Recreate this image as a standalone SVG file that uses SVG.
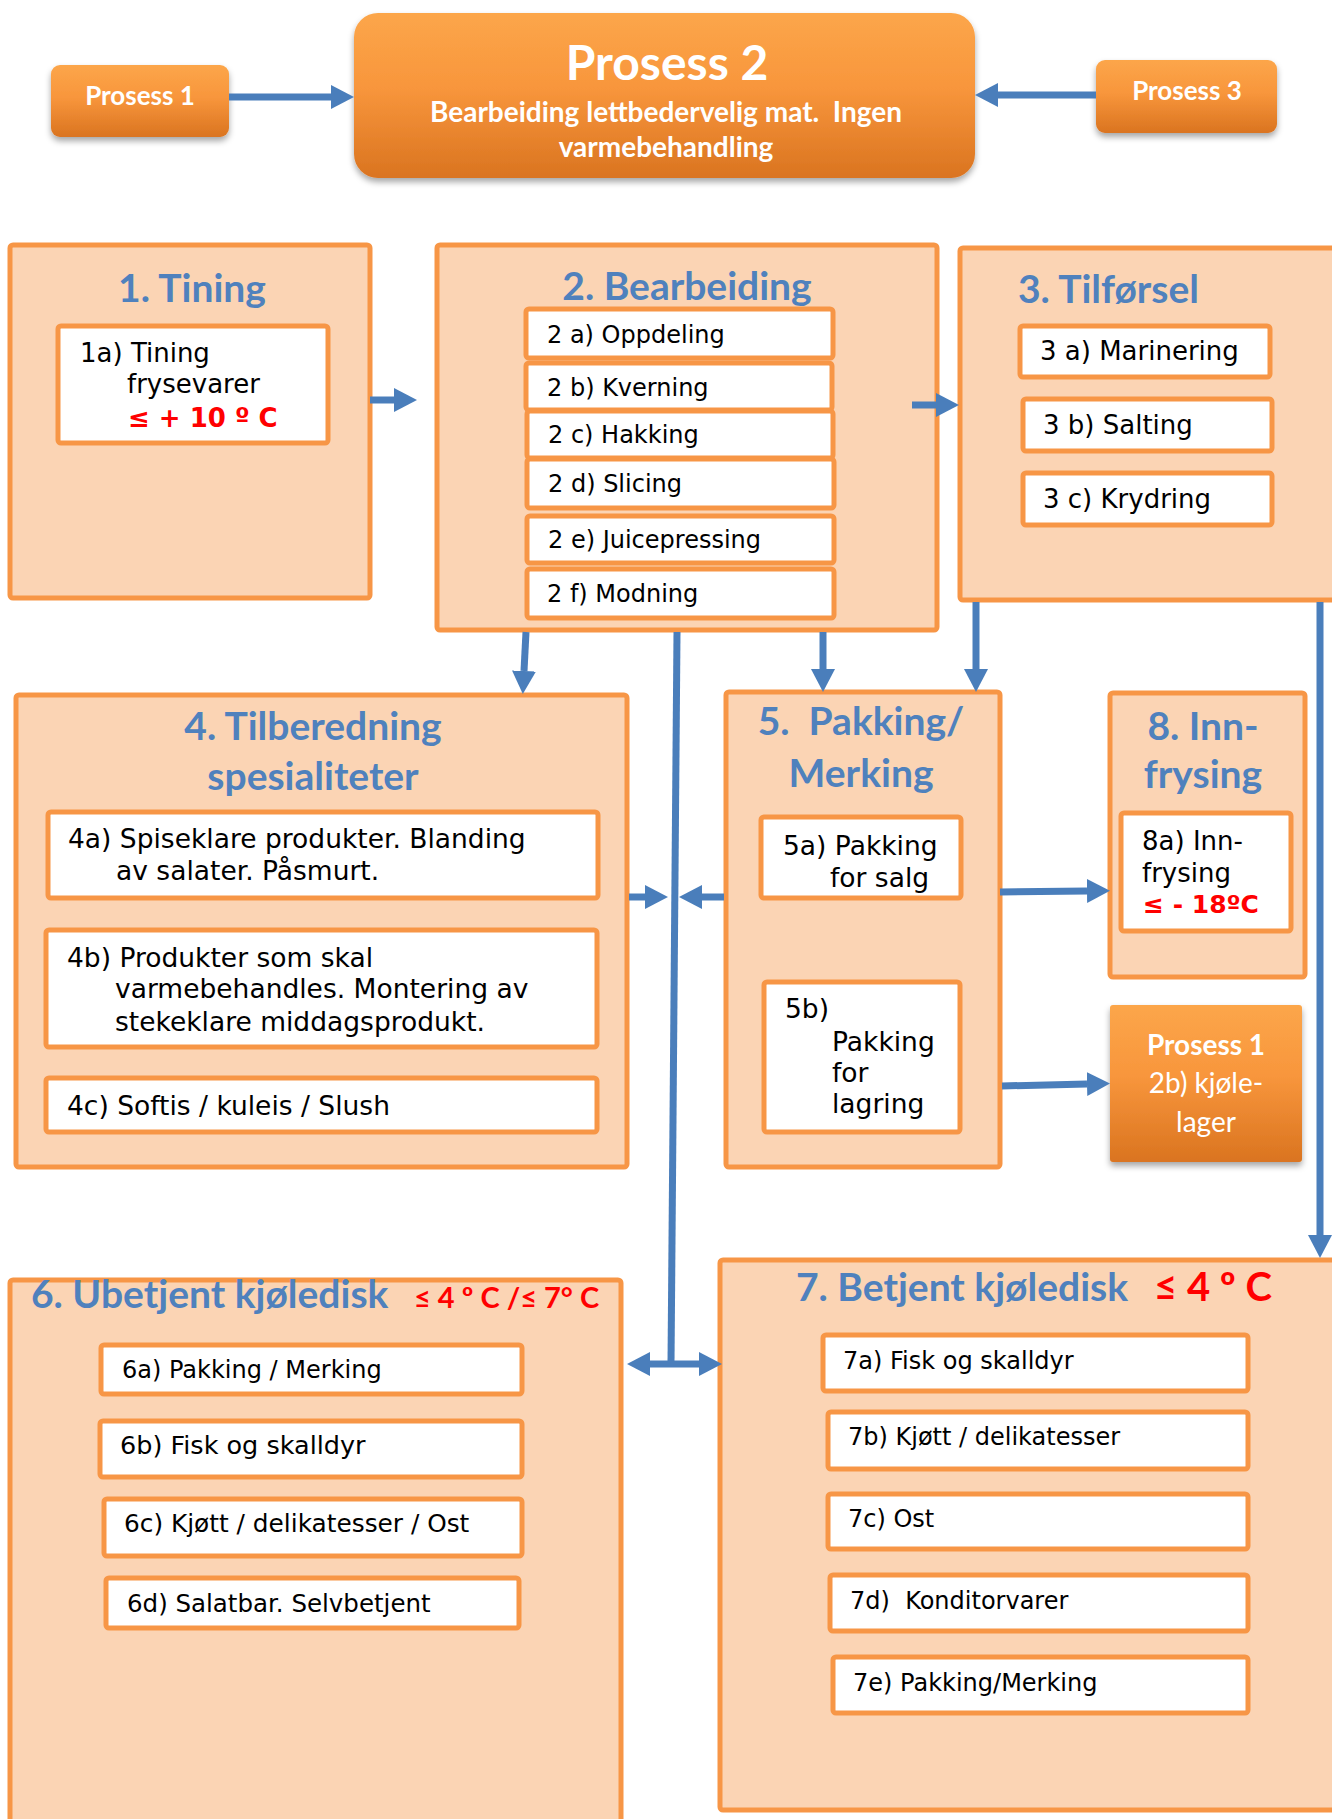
<svg xmlns="http://www.w3.org/2000/svg" width="1332" height="1819" viewBox="0 0 1332 1819">
<defs>
<linearGradient id="og" x1="0" y1="0" x2="0" y2="1">
<stop offset="0" stop-color="#FCA64A"/>
<stop offset="0.45" stop-color="#F8963C"/>
<stop offset="1" stop-color="#DA7420"/>
</linearGradient>
<filter id="sh" x="-10%" y="-10%" width="120%" height="130%">
<feDropShadow dx="0" dy="4" stdDeviation="3" flood-color="#000" flood-opacity="0.35"/>
</filter>
<marker id="ah" markerUnits="userSpaceOnUse" markerWidth="24" markerHeight="26" refX="0" refY="12" orient="auto-start-reverse" viewBox="0 0 24 24">
<path d="M0,0 L23,12 L0,24 z" fill="#4A7EBB"/>
</marker>
<style>
.outer{fill:#FBD4B4;stroke:#F79646;stroke-width:5}
.inner{fill:#FFFFFF;stroke:#F79646;stroke-width:5}
.proc{fill:url(#og);filter:url(#sh)}
.ttl{font-family:Lato,Calibri,sans-serif;font-weight:bold;font-size:39px;fill:#4F81BD}
.ver{font-family:"DejaVu Sans",Verdana,sans-serif;font-size:24px;fill:#000}
.ver26{font-family:"DejaVu Sans",Verdana,sans-serif;font-size:26px;fill:#000}
.ver265{font-family:"DejaVu Sans",Verdana,sans-serif;font-size:26.5px;fill:#000}
.redv{font-family:"DejaVu Sans",Verdana,sans-serif;font-weight:bold;fill:#FF0000}
.redc{font-family:Lato,Calibri,sans-serif;font-weight:bold;fill:#FF0000}
.wt{font-family:Lato,Calibri,sans-serif;font-weight:bold;fill:#FFFFFF}
.wr{font-family:Lato,Calibri,sans-serif;fill:#FFFFFF}
.c{stroke:#4A7EBB;stroke-width:7;fill:none}
.ca{stroke:#4A7EBB;stroke-width:7;fill:none;marker-end:url(#ah)}
.cb{stroke:#4A7EBB;stroke-width:7;fill:none;marker-end:url(#ah);marker-start:url(#ah)}
</style>
</defs>
<rect width="1332" height="1819" fill="#FFFFFF"/>

<g id="prosess1">
<rect class="proc" x="51" y="65" width="178" height="72" rx="9"/>
<text class="wt" x="140" y="105" font-size="26" text-anchor="middle">Prosess 1</text>
</g>
<g id="prosess2">
<rect class="proc" x="354" y="13" width="621" height="165" rx="24"/>
<text class="wt" x="667" y="80" font-size="48" text-anchor="middle">Prosess 2</text>
<text class="wt" x="666" y="122" font-size="28" text-anchor="middle" xml:space="preserve">Bearbeiding lettbedervelig mat.  Ingen</text>
<text class="wt" x="666" y="157" font-size="28" text-anchor="middle">varmebehandling</text>
</g>
<g id="prosess3">
<rect class="proc" x="1096" y="60" width="181" height="73" rx="9"/>
<text class="wt" x="1187" y="100" font-size="26" text-anchor="middle">Prosess 3</text>
</g>

<g id="tining">
<rect class="outer" x="10" y="245" width="360" height="353" rx="3"/>
<text class="ttl" x="192" y="302" text-anchor="middle">1. Tining</text>
<rect class="inner" x="58" y="326" width="270" height="117" rx="3"/>
<text class="ver26" x="80" y="362">1a) Tining</text>
<text class="ver26" x="127" y="393">frysevarer</text>
<text class="redv" x="128" y="427" font-size="26">≤ + 10 º C</text>
</g>

<g id="bearbeiding">
<rect class="outer" x="437" y="245" width="500" height="385" rx="3"/>
<text class="ttl" x="687" y="300" text-anchor="middle">2. Bearbeiding</text>
<rect class="inner" x="526" y="309" width="307" height="49" rx="3"/>
<text class="ver" x="547" y="343">2 a) Oppdeling</text>
<rect class="inner" x="526" y="363" width="306" height="47" rx="3"/>
<text class="ver" x="547" y="396">2 b) Kverning</text>
<rect class="inner" x="527" y="411" width="306" height="47" rx="3"/>
<text class="ver" x="548" y="443">2 c) Hakking</text>
<rect class="inner" x="527" y="459" width="307" height="49" rx="3"/>
<text class="ver" x="548" y="492">2 d) Slicing</text>
<rect class="inner" x="527" y="516" width="307" height="47" rx="3"/>
<text class="ver" x="548" y="548">2 e) Juicepressing</text>
<rect class="inner" x="527" y="569" width="307" height="49" rx="3"/>
<text class="ver" x="547" y="602">2 f) Modning</text>
</g>

<g id="tilforsel">
<rect class="outer" x="960" y="248" width="380" height="352" rx="3"/>
<text class="ttl" x="1018" y="303">3. Tilførsel</text>
<rect class="inner" x="1020" y="326" width="250" height="51" rx="3"/>
<text class="ver26" x="1040" y="360">3 a) Marinering</text>
<rect class="inner" x="1023" y="399" width="249" height="52" rx="3"/>
<text class="ver26" x="1043" y="434">3 b) Salting</text>
<rect class="inner" x="1023" y="473" width="249" height="52" rx="3"/>
<text class="ver26" x="1043" y="508">3 c) Krydring</text>
</g>

<g id="tilberedning">
<rect class="outer" x="16" y="695" width="611" height="472" rx="3"/>
<text class="ttl" x="313" y="740" text-anchor="middle">4. Tilberedning</text>
<text class="ttl" x="313" y="790" text-anchor="middle">spesialiteter</text>
<rect class="inner" x="48" y="812" width="550" height="86" rx="3"/>
<text class="ver265" x="68" y="848">4a) Spiseklare produkter. Blanding</text>
<text class="ver265" x="116" y="880">av salater. Påsmurt.</text>
<rect class="inner" x="46" y="930" width="551" height="117" rx="3"/>
<text class="ver265" x="67" y="967">4b) Produkter som skal</text>
<text class="ver265" x="115" y="998">varmebehandles. Montering av</text>
<text class="ver265" x="115" y="1031">stekeklare middagsprodukt.</text>
<rect class="inner" x="46" y="1078" width="551" height="54" rx="3"/>
<text class="ver265" x="67" y="1115">4c) Softis / kuleis / Slush</text>
</g>

<g id="pakking">
<rect class="outer" x="726" y="692" width="274" height="475" rx="3"/>
<text class="ttl" x="861" y="735" text-anchor="middle" xml:space="preserve">5.  Pakking/</text>
<text class="ttl" x="861" y="787" text-anchor="middle">Merking</text>
<rect class="inner" x="761" y="817" width="200" height="81" rx="3"/>
<text class="ver265" x="783" y="855">5a) Pakking</text>
<text class="ver265" x="830" y="887">for salg</text>
<rect class="inner" x="764" y="982" width="196" height="150" rx="3"/>
<text class="ver265" x="785" y="1018">5b)</text>
<text class="ver265" x="832" y="1051">Pakking</text>
<text class="ver265" x="832" y="1082">for</text>
<text class="ver265" x="832" y="1113">lagring</text>
</g>

<g id="innfrysing">
<rect class="outer" x="1110" y="693" width="195" height="284" rx="3"/>
<text class="ttl" x="1203" y="740" text-anchor="middle">8. Inn-</text>
<text class="ttl" x="1203" y="788" text-anchor="middle">frysing</text>
<rect class="inner" x="1121" y="813" width="170" height="118" rx="3"/>
<text class="ver26" x="1142" y="850">8a) Inn-</text>
<text class="ver26" x="1142" y="882">frysing</text>
<text class="redv" x="1143" y="913" font-size="25">≤ - 18ºC</text>
</g>

<g id="prosess1-kjolelager">
<rect class="proc" x="1110" y="1005" width="192" height="157" rx="3"/>
<text class="wt" x="1206" y="1055" font-size="28" text-anchor="middle">Prosess 1</text>
<text class="wr" x="1206" y="1093" font-size="28" text-anchor="middle">2b) kjøle-</text>
<text class="wr" x="1206" y="1132" font-size="28" text-anchor="middle">lager</text>
</g>

<g id="ubetjent">
<rect class="outer" x="10" y="1280" width="611" height="560" rx="3"/>
<text class="ttl" x="31" y="1308">6. Ubetjent kjøledisk</text>
<text class="redc" x="414" y="1308" font-size="29">≤ 4 º C /≤ 7° C</text>
<rect class="inner" x="101" y="1345" width="421" height="49" rx="3"/>
<text class="ver" x="122" y="1378">6a) Pakking / Merking</text>
<rect class="inner" x="100" y="1421" width="422" height="56" rx="3"/>
<text class="ver" x="120" y="1454" style="font-size:25.5px">6b) Fisk og skalldyr</text>
<rect class="inner" x="104" y="1499" width="418" height="57" rx="3"/>
<text class="ver" x="124" y="1532" style="font-size:24.8px">6c) Kjøtt / delikatesser / Ost</text>
<rect class="inner" x="106" y="1578" width="413" height="50" rx="3"/>
<text class="ver" x="127" y="1612" style="font-size:24.5px">6d) Salatbar. Selvbetjent</text>
</g>

<g id="betjent">
<rect class="outer" x="720" y="1260" width="615" height="550" rx="3"/>
<text class="ttl" x="796" y="1301">7. Betjent kjøledisk</text>
<text class="redc" x="1154" y="1301" font-size="40">≤ 4 º C</text>
<rect class="inner" x="823" y="1335" width="425" height="56" rx="3"/>
<text class="ver" x="843" y="1369">7a) Fisk og skalldyr</text>
<rect class="inner" x="828" y="1412" width="420" height="57" rx="3"/>
<text class="ver" x="848" y="1445">7b) Kjøtt / delikatesser</text>
<rect class="inner" x="828" y="1494" width="420" height="55" rx="3"/>
<text class="ver" x="848" y="1527">7c) Ost</text>
<rect class="inner" x="830" y="1575" width="418" height="56" rx="3"/>
<text class="ver" x="850" y="1609" xml:space="preserve">7d)  Konditorvarer</text>
<rect class="inner" x="833" y="1657" width="415" height="56" rx="3"/>
<text class="ver" x="853" y="1691">7e) Pakking/Merking</text>
</g>

<g id="connectors">
<line class="ca" x1="229" y1="97" x2="331" y2="97"/>
<line class="ca" x1="1096" y1="95" x2="998" y2="95"/>
<line class="ca" x1="370" y1="400" x2="394" y2="400"/>
<line class="ca" x1="912" y1="405" x2="936" y2="405"/>
<line class="ca" x1="526" y1="632" x2="524" y2="671"/>
<line class="ca" x1="823" y1="632" x2="823" y2="669"/>
<line class="ca" x1="976" y1="602" x2="976" y2="669"/>
<line class="ca" x1="1320" y1="602" x2="1320" y2="1235"/>
<line class="c" x1="677" y1="632" x2="671" y2="1364"/>
<line class="ca" x1="629" y1="897" x2="645" y2="897"/>
<line class="ca" x1="724" y1="897" x2="702" y2="897"/>
<line class="cb" x1="650" y1="1364" x2="699" y2="1364"/>
<line class="ca" x1="1000" y1="892" x2="1087" y2="891"/>
<line class="ca" x1="1002" y1="1086" x2="1087" y2="1084"/>
</g>
</svg>
